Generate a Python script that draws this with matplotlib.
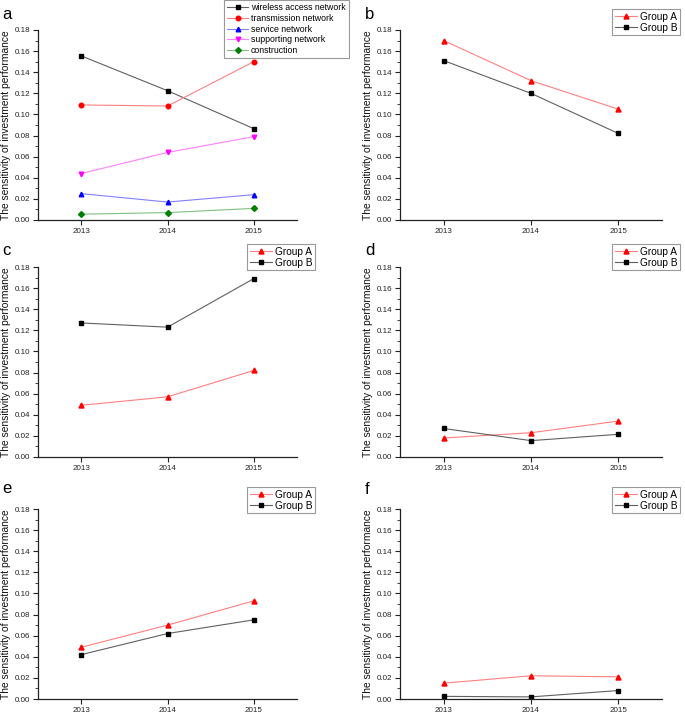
import matplotlib
matplotlib.use("Agg")
import matplotlib.pyplot as plt
from matplotlib.ticker import MultipleLocator, AutoMinorLocator, FormatStrFormatter

plt.rcParams['font.family'] = ['Liberation Sans', 'DejaVu Sans']

years = [2013, 2014, 2015]
ylabel = "The sensitivity of investment performance"

# Panel a
a_series = ["wireless access network", "transmission network", "service network",
            "supporting network", "construction"]
a_wireless = [0.1555, 0.1225, 0.0865]
a_transmission = [0.109, 0.108, 0.150]
a_service = [0.025, 0.017, 0.024]
a_supporting = [0.044, 0.064, 0.079]
a_construction = [0.0055, 0.007, 0.011]

# Panels b-f: Group A, Group B
b_A = [0.170, 0.132, 0.105]
b_B = [0.151, 0.120, 0.082]
c_A = [0.049, 0.057, 0.082]
c_B = [0.127, 0.123, 0.169]
d_A = [0.018, 0.023, 0.034]
d_B = [0.027, 0.0155, 0.0215]
e_A = [0.049, 0.070, 0.093]
e_B = [0.042, 0.062, 0.075]
f_A = [0.015, 0.022, 0.021]
f_B = [0.0025, 0.002, 0.008]

W, H = 685, 714
fig = plt.figure(figsize=(W / 100, H / 100), dpi=100)

def px_axes(left, top, right, bottom):
    return fig.add_axes([left / W, 1 - bottom / H, (right - left) / W, (bottom - top) / H])

def style(ax):
    ax.set_xlim(2012.5, 2015.5)
    ax.set_ylim(0, 0.18)
    ax.set_xticks(years)
    ax.set_xticklabels([str(y) for y in years])
    ax.yaxis.set_major_locator(MultipleLocator(0.02))
    ax.yaxis.set_minor_locator(AutoMinorLocator(2))
    ax.yaxis.set_major_formatter(FormatStrFormatter('%.2f'))
    for s in ['top', 'right']:
        ax.spines[s].set_visible(False)
    for s in ['left', 'bottom']:
        ax.spines[s].set_linewidth(0.9)
        ax.spines[s].set_color('#222222')
    ax.tick_params(axis='both', which='major', direction='out', length=3.5, width=0.8,
                   labelsize=5.8, pad=2, colors='#222222')
    ax.tick_params(axis='y', which='minor', direction='out', length=2, width=0.6, colors='#222222')
    ax.set_ylabel(ylabel, fontsize=7.4, labelpad=3, color='#111111')

ms = 3.3
panels_px = {
    'a': (38, 30, 297, 220),
    'b': (400, 30, 662, 220),
    'c': (38, 267, 297, 457),
    'd': (400, 267, 662, 457),
    'e': (38, 509, 297, 699),
    'f': (400, 509, 662, 699),
}
letter_pos = {'a': (2, 19), 'b': (365, 19), 'c': (2, 255), 'd': (365, 255),
              'e': (2, 493), 'f': (365, 494)}

# Panel a
ax = px_axes(*panels_px['a'])
style(ax)
specs = [
    (a_wireless, 's', '#000000', '#606060'),
    (a_transmission, 'o', '#ff0000', '#ff8080'),
    (a_service, '^', '#0000ff', '#8080ff'),
    (a_supporting, 'v', '#ff00ff', '#ff80ff'),
    (a_construction, 'D', '#008000', '#80c080'),
]
for name, (vals, mk, mc, lc) in zip(a_series, specs):
    ax.plot(years, vals, color=lc, lw=0.8, marker=mk, mfc=mc, mec=mc,
            ms=ms if mk != 'D' else 3.0, label=name)
leg = ax.legend(loc='upper left', bbox_to_anchor=(224 / W, 1 - 0 / H), bbox_transform=fig.transFigure,
                fontsize=6.3, frameon=True, fancybox=False, borderpad=0.35, labelspacing=0.2,
                handlelength=2.4, handletextpad=0.3, borderaxespad=0)
leg.get_frame().set_edgecolor('#808080')
leg.get_frame().set_linewidth(0.8)

groups = {'b': (b_A, b_B), 'c': (c_A, c_B), 'd': (d_A, d_B), 'e': (e_A, e_B), 'f': (f_A, f_B)}
leg_pos = {'b': (612, 9), 'c': (247, 244), 'd': (612, 244), 'e': (247, 487), 'f': (612, 487)}
for key, (gA, gB) in groups.items():
    ax = px_axes(*panels_px[key])
    style(ax)
    ax.plot(years, gA, color='#ff8080', lw=0.8, marker='^', mfc='#ff0000', mec='#ff0000', ms=ms + 0.3,
            label='Group A')
    ax.plot(years, gB, color='#606060', lw=0.8, marker='s', mfc='#000000', mec='#000000', ms=ms,
            label='Group B')
    lx, ly = leg_pos[key]
    leg = ax.legend(loc='upper left', bbox_to_anchor=(lx / W, 1 - ly / H), bbox_transform=fig.transFigure,
                    fontsize=7.3, frameon=True, fancybox=False, borderpad=0.25, labelspacing=0.1,
                    handlelength=2.2, handletextpad=0.3, borderaxespad=0)
    leg.get_frame().set_edgecolor('#808080')
    leg.get_frame().set_linewidth(0.8)

for k, (x, y) in letter_pos.items():
    fig.text(x / W, 1 - y / H, k, fontsize=12, ha='left', va='baseline')

fig.savefig('out.png', dpi=100)
